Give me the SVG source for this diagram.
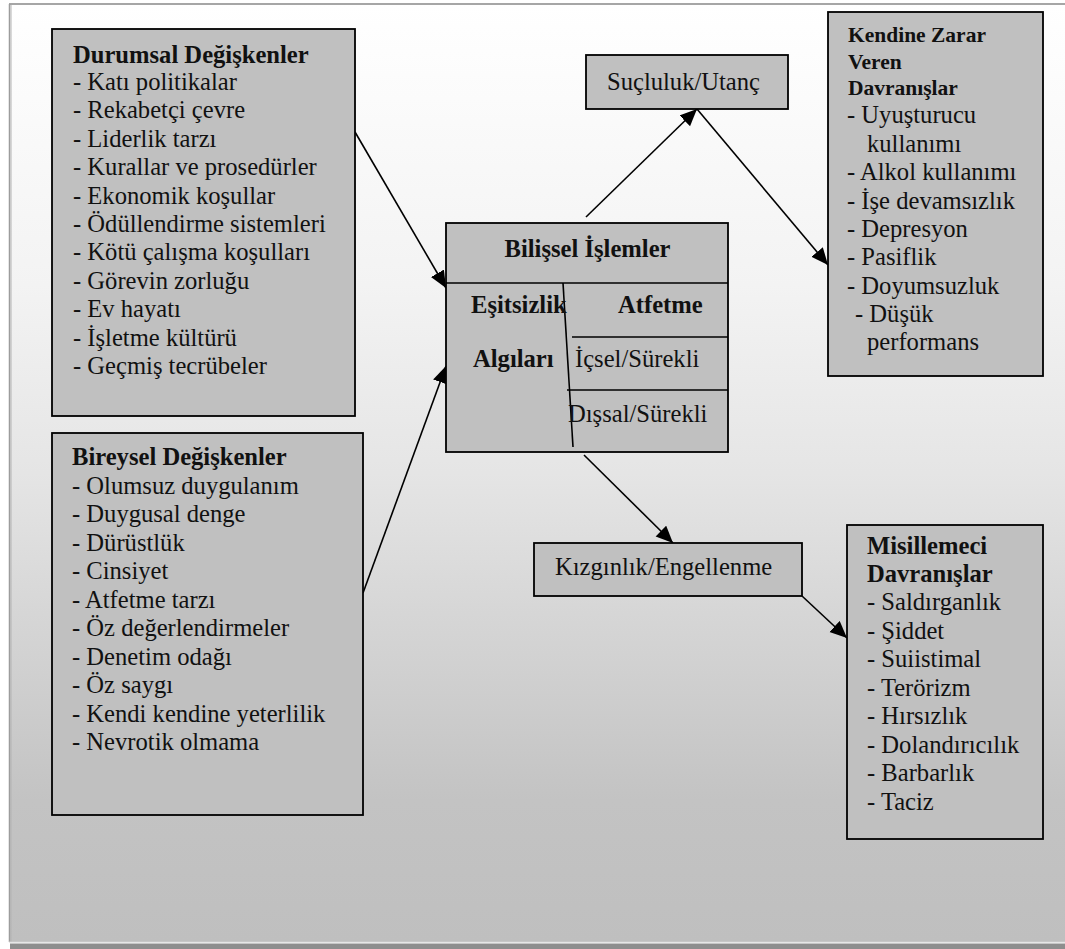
<svg xmlns="http://www.w3.org/2000/svg" width="1065" height="949" viewBox="0 0 1065 949">
  <defs>
    <linearGradient id="bg" gradientUnits="userSpaceOnUse" x1="0" y1="4" x2="0" y2="942">
      <stop offset="0" stop-color="#ffffff"/>
      <stop offset="0.3" stop-color="#f3f3f3"/>
      <stop offset="0.5" stop-color="#e5e5e5"/>
      <stop offset="0.65" stop-color="#d6d6d6"/>
      <stop offset="0.85" stop-color="#c3c3c3"/>
      <stop offset="1" stop-color="#bfbfbf"/>
    </linearGradient>
    <marker id="arrow" markerUnits="userSpaceOnUse" markerWidth="18" markerHeight="16" refX="17" refY="7.5" orient="auto">
      <path d="M0,0 L17,7.5 L0,15 Z" fill="#000"/>
    </marker>
    <style>
      .box { fill: #c0c0c0; stroke: #000; stroke-width: 1.8; }
      .rule { stroke: #000; stroke-width: 1.6; fill: none; }
      text { font-family: "Times New Roman", "Liberation Serif", Times, serif; font-weight: 400; fill: #111; }
      .t { font-size: 24.6px; }
      .b { font-weight: 700; }
      .h2 { font-size: 21.5px; font-weight: 700; }
      .conn { stroke: #000; stroke-width: 1.6; fill: none; marker-end: url(#arrow); }
    </style>
  </defs>

  <!-- page background with frame and shadow -->
  <rect x="0" y="0" width="1065" height="949" fill="#ffffff"/>
  <rect x="9" y="4" width="1070" height="938" fill="url(#bg)"/>
  <line x1="9" y1="4" x2="1065" y2="4" stroke="#a6a6a6" stroke-width="2"/>
  <line x1="9.5" y1="4" x2="9.5" y2="942" stroke="#9c9c9c" stroke-width="1.5"/>
  <line x1="11" y1="5" x2="11" y2="942" stroke="#b4b4b4" stroke-width="1"/>
  <line x1="9" y1="942" x2="1065" y2="942" stroke="#d0d0d0" stroke-width="1.2"/>
  <rect x="10" y="943.5" width="1055" height="6" fill="#8e8e8e"/>

  <g id="connectors">
    <line class="conn" x1="355" y1="132" x2="446" y2="288"/>
    <line class="conn" x1="363" y1="593" x2="446" y2="366"/>
    <line class="conn" x1="586" y1="217" x2="697" y2="109"/>
    <line class="conn" x1="697" y1="109" x2="828" y2="265"/>
    <line class="conn" x1="584" y1="455" x2="673" y2="543"/>
    <line class="conn" x1="802" y1="596" x2="847" y2="638"/>
  </g>

  <g id="durumsal">
    <rect class="box" x="52" y="29" width="303" height="387"/>
    <text class="t b" x="73" y="63">Durumsal Değişkenler</text>
    <text class="t" x="73" y="90">- Katı politikalar</text>
    <text class="t" x="73" y="118.4">- Rekabetçi çevre</text>
    <text class="t" x="73" y="146.8">- Liderlik tarzı</text>
    <text class="t" x="73" y="175.2">- Kurallar ve prosedürler</text>
    <text class="t" x="73" y="203.6">- Ekonomik koşullar</text>
    <text class="t" x="73" y="232">- Ödüllendirme sistemleri</text>
    <text class="t" x="73" y="260.4">- Kötü çalışma koşulları</text>
    <text class="t" x="73" y="288.8">- Görevin zorluğu</text>
    <text class="t" x="73" y="317.2">- Ev hayatı</text>
    <text class="t" x="73" y="345.6">- İşletme kültürü</text>
    <text class="t" x="73" y="374">- Geçmiş tecrübeler</text>
  </g>

  <g id="bireysel">
    <rect class="box" x="52" y="433" width="311" height="382"/>
    <text class="t b" x="72" y="465">Bireysel Değişkenler</text>
    <text class="t" x="72" y="493.5">- Olumsuz duygulanım</text>
    <text class="t" x="72" y="522">- Duygusal denge</text>
    <text class="t" x="72" y="550.5">- Dürüstlük</text>
    <text class="t" x="72" y="579">- Cinsiyet</text>
    <text class="t" x="72" y="607.5">- Atfetme tarzı</text>
    <text class="t" x="72" y="636">- Öz değerlendirmeler</text>
    <text class="t" x="72" y="664.5">- Denetim odağı</text>
    <text class="t" x="72" y="693">- Öz saygı</text>
    <text class="t" x="72" y="721.5">- Kendi kendine yeterlilik</text>
    <text class="t" x="72" y="750">- Nevrotik olmama</text>
  </g>

  <g id="bilissel">
    <rect class="box" x="446" y="223" width="282" height="229"/>
    <line class="rule" x1="446" y1="283" x2="728" y2="283"/>
    <line class="rule" x1="563" y1="283" x2="573" y2="447"/>
    <line class="rule" x1="572" y1="337" x2="728" y2="337"/>
    <line class="rule" x1="567" y1="390" x2="728" y2="390"/>
    <text class="t b" x="587.5" y="257" text-anchor="middle">Bilişsel İşlemler</text>
    <text class="t b" x="471" y="313">Eşitsizlik</text>
    <text class="t b" x="618" y="313">Atfetme</text>
    <text class="t b" x="473" y="367">Algıları</text>
    <text class="t" x="575" y="367">İçsel/Sürekli</text>
    <text class="t" x="568" y="422">Dışsal/Sürekli</text>
  </g>

  <g id="sucluluk">
    <rect class="box" x="586" y="55" width="202" height="54"/>
    <text class="t" x="607" y="90">Suçluluk/Utanç</text>
  </g>

  <g id="kizginlik">
    <rect class="box" x="534" y="543" width="268" height="53"/>
    <text class="t" x="555" y="575">Kızgınlık/Engellenme</text>
  </g>

  <g id="kendine-zarar">
    <rect class="box" x="828" y="12" width="215" height="364"/>
    <text class="h2" x="848" y="42">Kendine Zarar</text>
    <text class="h2" x="848" y="68.5">Veren</text>
    <text class="h2" x="848" y="95">Davranışlar</text>
    <text class="t" x="847" y="123">- Uyuşturucu</text>
    <text class="t" x="867" y="151.5">kullanımı</text>
    <text class="t" x="847" y="180">- Alkol kullanımı</text>
    <text class="t" x="847" y="208.5">- İşe devamsızlık</text>
    <text class="t" x="847" y="237">- Depresyon</text>
    <text class="t" x="847" y="265">- Pasiflik</text>
    <text class="t" x="847" y="293.5">- Doyumsuzluk</text>
    <text class="t" x="855" y="322">- Düşük</text>
    <text class="t" x="867" y="350">performans</text>
  </g>

  <g id="misillemeci">
    <rect class="box" x="847" y="525" width="196" height="314"/>
    <text class="t b" x="867" y="554">Misillemeci</text>
    <text class="t b" x="867" y="582">Davranışlar</text>
    <text class="t" x="867" y="610">- Saldırganlık</text>
    <text class="t" x="867" y="638.5">- Şiddet</text>
    <text class="t" x="867" y="667">- Suiistimal</text>
    <text class="t" x="867" y="695.5">- Terörizm</text>
    <text class="t" x="867" y="724">- Hırsızlık</text>
    <text class="t" x="867" y="752.5">- Dolandırıcılık</text>
    <text class="t" x="867" y="781">- Barbarlık</text>
    <text class="t" x="867" y="809.5">- Taciz</text>
  </g>
</svg>
